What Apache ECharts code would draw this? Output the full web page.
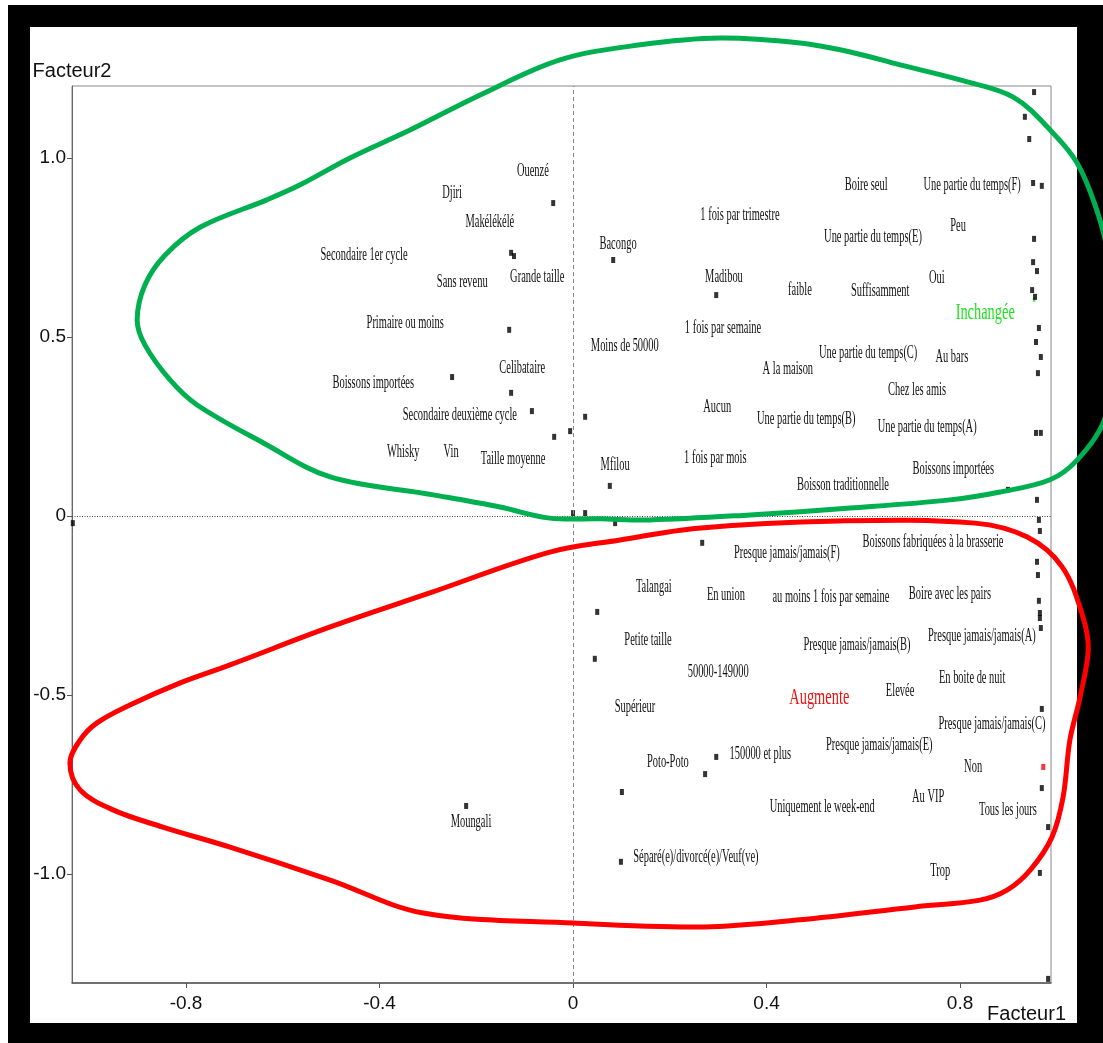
<!DOCTYPE html>
<html>
<head>
<meta charset="utf-8">
<title>Facteur1 / Facteur2</title>
<script src="https://cdn.jsdelivr.net/npm/echarts@6/dist/echarts.min.js"></script>
<style>
  html, body { margin: 0; padding: 0; width: 1103px; height: 1043px; overflow: hidden; background: #ffffff; }
  #frame {
    position: absolute; left: 8px; top: 5px; right: 0; bottom: 0;
    box-sizing: border-box; background: #ffffff;
    border-style: solid; border-color: #000000;
    border-width: 22px 26px 20px 22px;
  }
  #chart { position: absolute; left: 0; top: 0; width: 1103px; height: 1043px; }
</style>
</head>
<body>
<div id="frame"></div>
<div id="chart"></div>
<script>
// Axis ranges and tick positions
const xRange = [-1.0357, 0.988];
const yRange = [-1.3045, 1.201];
const xTicks = [-0.8, -0.4, 0, 0.4, 0.8];
const yTicks = [-1.0, -0.5, 0, 0.5, 1.0];

// Coordinates of the modalities (black markers)
const pointX = [-0.041, -0.128, -0.122, -0.132, 0.083, -0.250, -0.128, -0.085, -0.039, -0.006, 0.025, 0.076, 0.000, 0.025, 0.087, 0.296,
  0.953, 0.934, 0.943, 0.951, 0.969, 0.953, 0.951, 0.959, 0.949, 0.955, 0.963, 0.957, 0.967, 0.961, 0.957, 0.967, 0.899, 0.959,
  0.963, 0.965, 0.959, 0.961, 0.963, 0.965, 0.965, 0.967, 0.969, 0.969, 0.982, 0.965, 0.982,
  0.267, 0.050, 0.045, 0.296, 0.273, 0.101, 0.099, -0.221, -1.034];
const pointY = [0.874, 0.735, 0.726, 0.520, 0.715, 0.388, 0.344, 0.293, 0.221, 0.237, 0.277, 0.084, 0.008, 0.008, -0.020, 0.617,
  1.184, 1.115, 1.053, 0.930, 0.922, 0.774, 0.709, 0.684, 0.631, 0.612, 0.525, 0.486, 0.444, 0.399, 0.232, 0.232, 0.073, 0.045,
  -0.011, -0.042, -0.128, -0.165, -0.237, -0.271, -0.285, -0.313, -0.539, -0.760, -0.869, -0.997, -1.293,
  -0.075, -0.268, -0.399, -0.673, -0.721, -0.771, -0.966, -0.810, -0.020];

// Supplementary modalities: "Augmente" (red) and "Inchangée" (green)
const augmentePoint = [0.972, -0.701];
const inchangeePoint = [0.953, 0.604];

// Text labels of the modalities
const modalites = [
  "Ouenzé", "Djiri", "Makélékélé", "Secondaire 1er cycle", "Sans revenu", "Grande taille", "Primaire ou moins",
  "Bacongo", "Moins de 50000", "Celibataire", "Boissons importées", "Secondaire deuxième cycle", "Whisky", "Vin",
  "Taille moyenne", "Mfilou", "1 fois par trimestre", "Boire seul", "Une partie du temps(F)", "Une partie du temps(E)",
  "Peu", "Madibou", "faible", "Suffisamment", "Oui", "1 fois par semaine", "Une partie du temps(C)", "Au bars",
  "A la maison", "Chez les amis", "Aucun", "Une partie du temps(B)", "Une partie du temps(A)", "1 fois par mois",
  "Boissons importées", "Boisson traditionnelle", "Boissons fabriquées à la brasserie", "Presque jamais/jamais(F)",
  "Talangai", "En union", "au moins 1 fois par semaine", "Boire avec les pairs", "Petite taille",
  "Presque jamais/jamais(B)", "Presque jamais/jamais(A)", "50000-149000", "En boite de nuit", "Elevée", "Supérieur",
  "Presque jamais/jamais(C)", "Presque jamais/jamais(E)", "150000 et plus", "Poto-Poto", "Non", "Au VIP",
  "Uniquement le week-end", "Tous les jours", "Séparé(e)/divorcé(e)/Veuf(ve)", "Trop", "Moungali"
];
const labelX = [-0.083, -0.250, -0.172, -0.432, -0.229, -0.074, -0.347,
  0.093, 0.107, -0.105, -0.413, -0.234, -0.351, -0.252,
  -0.124, 0.087, 0.345, 0.606, 0.825, 0.620,
  0.796, 0.312, 0.469, 0.635, 0.752, 0.310, 0.610, 0.783,
  0.444, 0.711, 0.298, 0.482, 0.732, 0.294,
  0.786, 0.558, 0.744, 0.442,
  0.167, 0.316, 0.533, 0.779, 0.155,
  0.587, 0.845, 0.300, 0.825, 0.676, 0.128,
  0.866, 0.633, 0.387, 0.196, 0.827, 0.734,
  0.515, 0.899, 0.254, 0.759, -0.211];
const labelY = [0.964, 0.902, 0.821, 0.729, 0.654, 0.668, 0.539,
  0.760, 0.475, 0.413, 0.372, 0.282, 0.179, 0.179,
  0.159, 0.142, 0.841, 0.925, 0.925, 0.779,
  0.810, 0.668, 0.631, 0.628, 0.665, 0.525, 0.455, 0.444,
  0.411, 0.352, 0.304, 0.271, 0.249, 0.162,
  0.131, 0.087, -0.073, -0.103,
  -0.198, -0.221, -0.226, -0.218, -0.346,
  -0.360, -0.335, -0.436, -0.453, -0.489, -0.534,
  -0.581, -0.640, -0.665, -0.687, -0.701, -0.785,
  -0.813, -0.821, -0.953, -0.992, -0.855];

// Group titles
const groupNames = ["Inchangée", "Augmente"];
const groupX = [0.852, 0.509];
const groupY = [0.567, -0.508];
const groupColors = ["#22e022", "#ee1111"];

// Closed outline around the "Inchangée" group
const inchangeeX = [0.056, -0.048, -0.151, -0.289, -0.502, -0.640, -0.777, -0.833, -0.885, -0.901, -0.885, -0.843, -0.770,
  -0.633, -0.564, -0.461, -0.337, -0.192, -0.027, 0.139, 0.304, 0.469, 0.573, 0.676, 0.800, 0.910, 0.992, 1.042,
  1.079, 1.104, 1.116, 1.112, 1.096, 1.042, 0.986, 0.883, 0.779, 0.573, 0.366, 0.159];
const inchangeeY = [-0.008, -0.006, 0.025, 0.059, 0.109, 0.204, 0.310, 0.380, 0.478, 0.547, 0.645, 0.729, 0.807,
  0.883, 0.925, 1.000, 1.078, 1.176, 1.274, 1.316, 1.335, 1.321, 1.296, 1.260, 1.218, 1.170, 1.070, 0.986,
  0.869, 0.743, 0.547, 0.380, 0.260, 0.156, 0.101, 0.067, 0.045, 0.022, 0.003, -0.011];

// Closed outline around the "Augmente" group
const augmenteX = [0.271, 0.002, -0.310, -0.502, -0.709, -0.848, -0.951, -1.019, -1.040, -1.019, -0.984, -0.916, -0.812,
  -0.709, -0.502, -0.296, -0.048, 0.097, 0.258, 0.546, 0.831, 0.939, 1.011, 1.054, 1.065, 1.048, 1.027, 1.013,
  0.990, 0.945, 0.897, 0.841, 0.707, 0.469];
const augmenteY = [-1.148, -1.137, -1.109, -1.017, -0.925, -0.869, -0.821, -0.765, -0.690, -0.626, -0.578, -0.528, -0.466,
  -0.416, -0.310, -0.215, -0.101, -0.067, -0.034, -0.014, -0.020, -0.059, -0.142, -0.282, -0.374, -0.506, -0.626, -0.785,
  -0.897, -0.989, -1.045, -1.073, -1.092, -1.128];

const zip = (xs, ys) => xs.map((x, i) => [x, ys[i]]);
const fmt = v => (Math.abs(v) < 1e-9 ? '0' : v.toFixed(1));
const serif = '"Liberation Serif", "Times New Roman", serif';
const sans = '"Liberation Sans", Arial, sans-serif';

// One smooth closed outline per series, drawn through the cartesian coordinate system
function outlineSeries(xs, ys, color) {
  return {
    type: 'custom',
    data: zip(xs, ys),
    silent: true, z: 10, clip: false,
    renderItem: (params, api) => {
      if (params.dataIndex !== 0) return null;
      const pts = xs.map((x, i) => api.coord([x, ys[i]]));
      return {
        type: 'polygon',
        shape: { points: pts, smooth: 0.35 },
        style: { fill: 'none', stroke: color, lineWidth: 5 }
      };
    }
  };
}

const chart = echarts.init(document.getElementById('chart'), null, { renderer: 'canvas' });

chart.setOption({
  animation: false,
  backgroundColor: 'transparent',
  grid: {
    left: 72, top: 86, right: 52, bottom: 60,
    outerBoundsMode: 'none',
    show: true, borderColor: '#888888', borderWidth: 1
  },
  xAxis: {
    type: 'value', min: xRange[0], max: xRange[1],
    name: 'Facteur1', nameLocation: 'end', nameGap: 15,
    nameTextStyle: { fontFamily: sans, fontSize: 20, color: '#111', align: 'right', verticalAlign: 'top', padding: [21, 0, 0, 0] },
    axisLine: { show: true, onZero: false, lineStyle: { color: '#555', width: 1.5 } },
    axisTick: { show: true, length: 5, customValues: xTicks, lineStyle: { color: '#555' } },
    axisLabel: { customValues: xTicks, formatter: fmt, margin: 11, fontFamily: sans, fontSize: 19, color: '#111' },
    splitLine: { show: false }
  },
  yAxis: {
    type: 'value', min: yRange[0], max: yRange[1],
    name: 'Facteur2', nameLocation: 'end', nameGap: 5,
    nameTextStyle: { fontFamily: sans, fontSize: 20, color: '#111', align: 'center', verticalAlign: 'bottom' },
    axisLine: { show: true, onZero: false, lineStyle: { color: '#666', width: 1 } },
    axisTick: { show: true, length: 5, customValues: yTicks, lineStyle: { color: '#555' } },
    axisLabel: { customValues: yTicks, formatter: fmt, margin: 6, fontFamily: sans, fontSize: 19, color: '#111' },
    splitLine: { show: false }
  },
  series: [
    {
      // origin lines and modality markers
      type: 'scatter',
      data: zip(pointX, pointY),
      symbol: 'rect', symbolSize: [4, 6],
      itemStyle: { color: '#000' },
      silent: true, z: 3,
      markLine: {
        silent: true, symbol: 'none', label: { show: false },
        data: [
          { xAxis: 0, lineStyle: { color: '#8a8a8a', type: [4, 3], width: 1 } },
          { yAxis: 0, lineStyle: { color: '#444', type: [1, 1.5], width: 1 } }
        ]
      }
    },
    {
      type: 'scatter', data: [augmentePoint], symbol: 'rect', symbolSize: [4, 6],
      itemStyle: { color: '#ff0000' }, silent: true, z: 3
    },
    {
      type: 'scatter', data: [inchangeePoint], symbol: 'rect', symbolSize: [2.5, 4],
      itemStyle: { color: '#22e022' }, silent: true, z: 2
    },
    {
      // modality names, narrow serif lettering
      type: 'custom',
      data: zip(labelX, labelY),
      silent: true, z: 4,
      renderItem: (params, api) => {
        const p = api.coord([api.value(0), api.value(1)]);
        return {
          type: 'text', x: p[0], y: p[1], scaleX: 0.55,
          style: {
            text: modalites[params.dataIndex], fill: '#111',
            fontFamily: serif, fontSize: 19, align: 'center', verticalAlign: 'middle'
          }
        };
      }
    },
    {
      type: 'custom',
      data: zip(groupX, groupY),
      silent: true, z: 4,
      renderItem: (params, api) => {
        const p = api.coord([api.value(0), api.value(1)]);
        return {
          type: 'text', x: p[0], y: p[1], scaleX: 0.6,
          style: {
            text: groupNames[params.dataIndex], fill: groupColors[params.dataIndex],
            fontFamily: serif, fontSize: 24, align: 'center', verticalAlign: 'middle'
          }
        };
      }
    },
    outlineSeries(inchangeeX, inchangeeY, '#00b050'),
    outlineSeries(augmenteX, augmenteY, '#ff0000')
  ]
});
</script>
</body>
</html>
